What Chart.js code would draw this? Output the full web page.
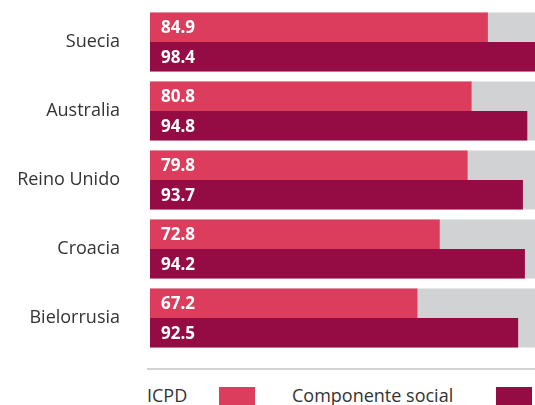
<!DOCTYPE html>
<html>
<head>
<meta charset="utf-8">
<script src="https://cdn.jsdelivr.net/npm/chart.js@4/dist/chart.umd.min.js"></script>
<style>
  html, body { margin: 0; padding: 0; background: #fff; overflow: hidden; }
  body { width: 535px; height: 405px; position: relative; font-family: "Open Sans", sans-serif; color: #333; }
  #c { position: absolute; left: 0; top: 0; }
  #rule { position: absolute; left: 147px; top: 368px; width: 400px; height: 2px; background: #d3d3d3; }
  #legend { position: absolute; left: 147px; top: 383px; height: 24px; font-size: 18px; white-space: nowrap; }
  #legend span.t { position: absolute; top: 0; }
  #legend span.b { position: absolute; top: 4px; height: 18px; width: 36px; }
</style>
</head>
<body>
<canvas id="c" width="550" height="360"></canvas>
<div id="rule"></div>
<div id="legend"></div>
<script>
const paises = ['Suecia', 'Australia', 'Reino Unido', 'Croacia', 'Bielorrusia'];
const icpd = [84.9, 80.8, 79.8, 72.8, 67.2];
const social = [98.4, 94.8, 93.7, 94.2, 92.5];
const fondo = [100, 100, 100, 100, 100];

const ROSA = '#dc3d5d';
const GRANATE = '#950c45';
const GRIS = '#d1d2d4';

const valueLabels = {
    id: 'valueLabels',
    afterDatasetsDraw(chart) {
        const ctx = chart.ctx;
        ctx.save();
        ctx.fillStyle = '#fff';
        ctx.font = 'bold 17px "Open Sans", sans-serif';
        ctx.textBaseline = 'middle';
        ctx.textAlign = 'left';
        [0, 1].forEach(i => {
            const meta = chart.getDatasetMeta(i);
            meta.data.forEach((bar, j) => {
                const v = chart.data.datasets[i].data[j];
                ctx.fillText(v.toFixed(1), bar.base + 11, bar.y + 1);
            });
        });
        ctx.restore();
    }
};

const chart = new Chart(document.getElementById('c'), {
    type: 'bar',
    data: {
        labels: paises,
        datasets: [
            { label: 'ICPD', data: icpd, backgroundColor: ROSA, order: 1 },
            { label: 'Componente social', data: social, backgroundColor: GRANATE, order: 1 },
            { label: 'fondo', data: fondo, backgroundColor: GRIS, grouped: false, order: 2 }
        ]
    },
    options: {
        indexAxis: 'y',
        responsive: false,
        animation: false,
        categoryPercentage: 0.855,
        barPercentage: 1,
        layout: { padding: { top: 7.5, bottom: 7.5, right: 2, left: 0 } },
        scales: {
            x: {
                display: false,
                min: 0,
                max: 100
            },
            y: {
                grid: { display: false },
                border: { display: false },
                ticks: {
                    color: '#333',
                    padding: 22,
                    font: { size: 18, family: '"Open Sans", sans-serif' }
                },
                afterFit(scale) {
                    scale.width = 150;
                    scale.paddingTop = 0;
                    scale.paddingBottom = 0;
                }
            }
        },
        plugins: {
            legend: { display: false },
            tooltip: { enabled: false }
        }
    },
    plugins: [valueLabels]
});

// leyenda: texto primero, cuadro después
const leg = document.getElementById('legend');
const items = [
    { text: 'ICPD', color: ROSA, tx: 0, bx: 72 },
    { text: 'Componente social', color: GRANATE, tx: 145, bx: 349 }
];
items.forEach(it => {
    const t = document.createElement('span');
    t.className = 't';
    t.style.left = it.tx + 'px';
    t.textContent = it.text;
    const b = document.createElement('span');
    b.className = 'b';
    b.style.left = it.bx + 'px';
    b.style.background = it.color;
    leg.appendChild(t);
    leg.appendChild(b);
});
</script>
</body>
</html>
